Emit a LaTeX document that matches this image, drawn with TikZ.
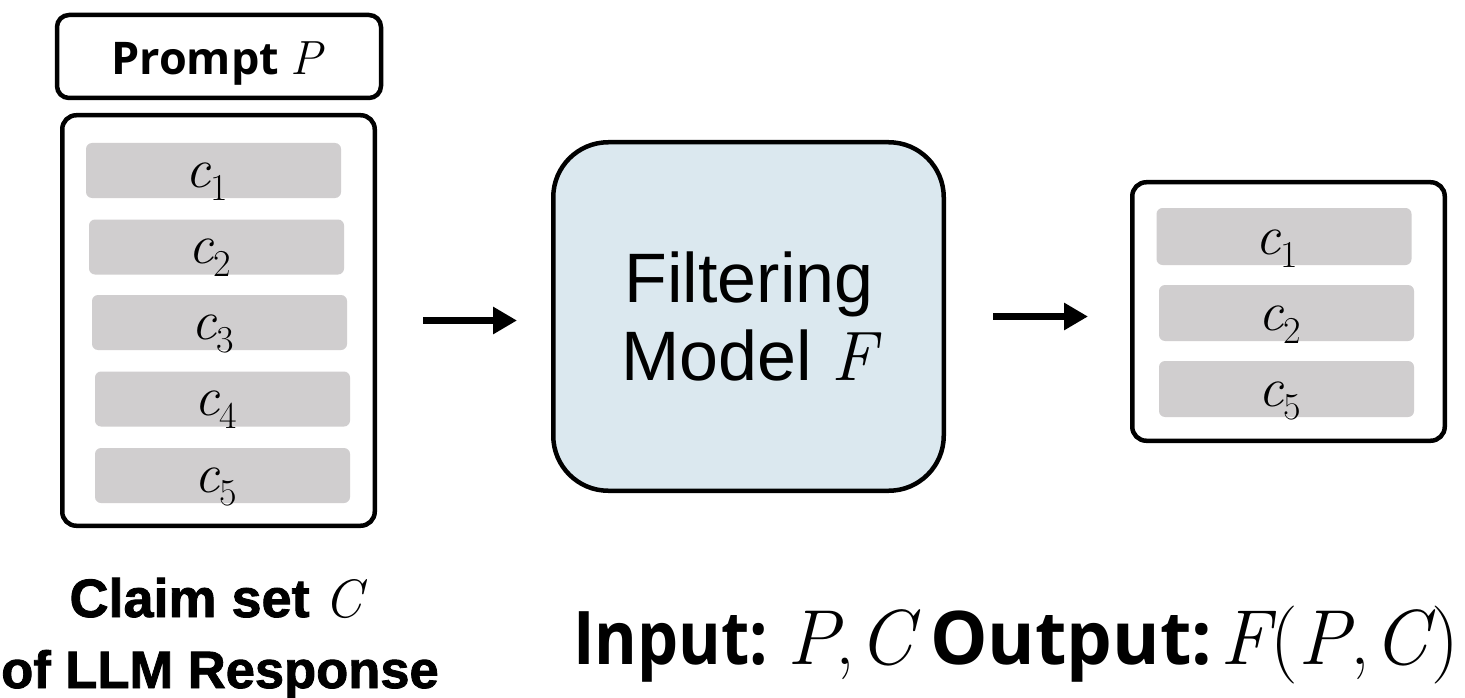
\documentclass[tikz,border=0pt]{standalone}
\usepackage{fontspec}
\usetikzlibrary{arrows.meta}
\newfontfamily\lsans{Liberation Sans}
\newfontfamily\hvsans{Liberation Sans}[BoldFeatures={FakeBold=1.6}]
\newfontfamily\osans{Open Sans}
\definecolor{barg}{RGB}{208,206,207}
\definecolor{fbl}{RGB}{219,232,239}
\newcommand{\mvar}[1]{{\rmfamily\mdseries\itshape #1}}
\newcommand{\mrm}[1]{{\rmfamily\mdseries\upshape #1}}
\newcommand{\cv}[1]{\mvar{c}\raisebox{-13pt}{\rmfamily\fontsize{38}{40}\selectfont #1}}
\begin{document}
\begin{tikzpicture}[x=1pt,y=-1pt,
  box/.style={draw=black, line width=4.5pt, rounded corners=14pt, fill=white, inner sep=0pt},
  bar/.style={fill=barg, rounded corners=6pt, minimum width=255pt, minimum height=55pt, inner sep=0pt},
  lab/.style={anchor=base, inner sep=0pt, font=\fontsize{56}{60}\selectfont},
  arr/.style={line width=7pt, -{Triangle[length=24pt,width=26pt]}},
  ioline/.style={anchor=base west, inner sep=0pt},
  iomath/.style={anchor=base west, inner sep=0pt, font=\fontsize{78}{84}\selectfont},
]
\useasboundingbox (0,0) rectangle (1465,698);
% prompt
\node[box, rounded corners=12pt, minimum width=324pt, minimum height=83pt] (prompt) at (219,56.5) {};
\node[anchor=base, inner sep=0pt, font=\osans\bfseries\fontsize{45}{54}\selectfont] (ptext) at (217,75) {Prompt \fontsize{48}{54}\selectfont\mvar{P}};
% claim set box
\node[box, minimum width=312.5pt, minimum height=410.5pt] (claims) at (218.5,320.5) {};
\foreach \i/\x/\y in {1/213.5/170.5, 2/216.5/247, 3/219.5/322.5, 4/222.5/399, 5/222.5/475.5} {
  \node[bar] (lb\i) at (\x,\y) {};
  \node[lab] (lt\i) at ([xshift=-7pt,yshift=11pt]lb\i.south) {\cv{\i}};
}
% filter
\node[draw=black, line width=4.5pt, fill=fbl, rounded corners=55pt, minimum width=390.5pt, minimum height=348.5pt] (filter) at (748.5,316.5) {};
\node[anchor=base, inner sep=0pt, font=\lsans\fontsize{70}{78}\selectfont] (f1) at (749,302) {Filtering};
\node[anchor=base, inner sep=0pt, font=\lsans\fontsize{70}{78}\selectfont] (f2) at (749,380) {Model \mvar{F}};
% output box
\node[box, minimum width=312.5pt, minimum height=258.5pt] (out) at (1288.5,311.5) {};
\foreach \i/\x/\y/\h/\t in {1/1284/236.5/57/1, 2/1286.5/313/56/2, 3/1286.5/389/56/5} {
  \node[bar, minimum height=\h pt] (rb\i) at (\x,\y) {};
  \node[lab] (rt\i) at ([xshift=-7pt,yshift=11pt]rb\i.south) {\cv{\t}};
}
% arrows
\draw[arr, shorten <=46pt, shorten >=34pt] (claims.east) -- (claims.east -| filter.west);
\draw[arr, shorten <=47pt, shorten >=42pt] (filter.east) -- (filter.east -| out.west);
% bottom labels
\node[anchor=base, inner sep=0pt, font=\hvsans\bfseries\fontsize{54}{70}\selectfont] (cl1) at (216,617) {Claim set \mvar{C}};
\node[anchor=base, inner sep=0pt, font=\hvsans\bfseries\fontsize{52.5}{70}\selectfont] (cl2) at (220,688) {of LLM Response};
\node[ioline] (io1) at (573,664) {\resizebox{195pt}{\height}{\osans\bfseries\fontsize{74}{80}\selectfont Input:}};
\node[iomath] (io2) at (787,664) {\makebox[48pt][l]{\mvar{P}}\makebox[23pt][l]{\mrm{,}}\mvar{C}};
\node[ioline] (io3) at (930,664) {\resizebox{282pt}{\height}{\osans\bfseries\fontsize{74}{80}\selectfont Output:}};
\node[iomath] (io4) at (1220,664) {\mvar{F}\kern1pt\mrm{(}\mvar{P}\mrm{,}\kern4pt\mvar{C}\kern3pt\mrm{)}};
\end{tikzpicture}
\end{document}
